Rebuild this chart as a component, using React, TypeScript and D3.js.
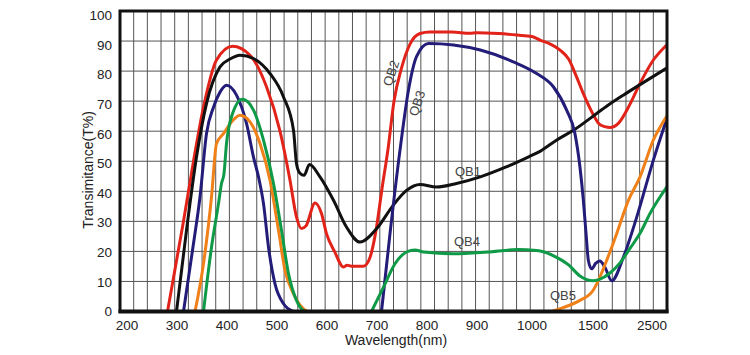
import React from "react";
import * as d3 from "d3";

// ---- data (wavelength nm, transmittance %) ----
const X_TICKS = [200, 300, 400, 500, 600, 700, 800, 900, 1000, 1500, 2500];
const Y_TICKS = [0, 10, 20, 30, 40, 50, 60, 70, 80, 90, 100];

const QB1: [number, number][] = [
  [299, 0], [319, 27], [339, 51.4], [359, 69.2], [386, 81.4], [406, 84], [426, 85.3],
  [453, 84.2], [486, 79.2], [513, 71.4], [533, 60.3], [539, 49.2], [546, 46], [554, 45.3],
  [565, 48.9], [586, 44.8], [613, 37], [639, 28.1], [666, 23.1], [699, 27.5], [733, 35.5],
  [759, 40.3], [786, 42.3], [819, 41.4], [859, 42.6], [906, 44.8], [953, 48.1], [993, 51.4],
  [1066, 53.3], [1200, 57], [1339, 60.3], [1563, 65.9], [1731, 68.3], [2014, 72],
  [2297, 75.5], [2749, 81],
];

const QB2: [number, number][] = [
  [281, 0], [313, 30], [333, 50], [353, 68], [379, 83.7], [411, 88.3], [446, 85.3],
  [479, 74.8], [506, 60], [526, 43.7], [539, 31.4], [549, 27.6], [558, 28.5], [576, 36.1],
  [589, 32.6], [599, 25.9], [615, 20], [633, 14.8], [640, 15.4], [649, 15.1], [673, 15.1],
  [686, 18], [697, 26], [711, 42], [722, 54], [734, 70], [749, 81], [766, 89], [786, 92.5],
  [806, 93], [850, 93], [886, 92.6], [899, 92.8], [940, 92.5], [973, 92], [1000, 91.5],
  [1066, 90.3], [1150, 89], [1230, 87], [1300, 84], [1366, 78], [1421, 72.5],
  [1505, 65.5], [1600, 62.5], [1700, 61.5], [1788, 61.2], [1929, 62.6], [2127, 69],
  [2297, 75.9], [2523, 83.7], [2749, 88.7],
];

const QB3_VIS: [number, number][] = [
  [313, 0], [333, 22.6], [346, 38.1], [359, 59.2], [373, 68], [386, 73], [399, 75.3],
  [419, 72], [439, 62.6], [453, 51.4], [463, 44.8], [473, 35.9], [483, 21.4], [496, 9.2],
  [513, 2.6], [533, 0],
];
const QB3_NIR: [number, number][] = [
  [709, 0], [726, 25.9], [746, 53.7], [763, 73.7], [779, 84.8], [803, 89.2], [853, 88.7],
  [906, 87], [966, 83.1], [1038, 79.2], [1175, 74.8], [1284, 67], [1352, 59.2],
  [1393, 48.1], [1421, 37], [1443, 25.9], [1462, 17], [1489, 14.2], [1545, 16],
  [1615, 16.8], [1700, 14.8], [1817, 10.2], [2014, 18], [2241, 31.4], [2522, 50.3],
  [2749, 64],
];

const QB4_VIS: [number, number][] = [
  [353, 0], [369, 21.4], [383, 35.9], [389, 42.6], [394, 45.9], [399, 55.9], [409, 64.8],
  [431, 70.6], [453, 67], [473, 57], [493, 42.6], [509, 27], [523, 12.6], [539, 3.7],
  [553, 0.3], [560, 0],
];
const QB4_NIR: [number, number][] = [
  [689, 0], [713, 8.1], [736, 15.9], [759, 19.8], [776, 20.5], [793, 19.8], [853, 19.2],
  [919, 19.8], [973, 20.6], [1038, 20.3], [1100, 19.8], [1202, 18], [1300, 15.5],
  [1393, 11.8], [1505, 10.2], [1600, 10.6], [1788, 12.8], [1950, 16], [2127, 21],
  [2297, 26], [2466, 32.6], [2749, 41.4],
];

const QB5_VIS: [number, number][] = [
  [336, 0], [353, 15.9], [369, 38.1], [379, 55.9], [393, 59.2], [409, 63.1], [426, 65.3],
  [446, 63.1], [466, 55.9], [486, 43.7], [503, 27], [516, 13.7], [533, 5.9], [553, 0.9],
  [562, 0],
];
const QB5_NIR: [number, number][] = [
  [1160, 0], [1270, 1.5], [1393, 3.7], [1500, 7], [1590, 10.3], [1732, 17], [1901, 25.9],
  [2100, 37], [2297, 44.8], [2522, 57], [2749, 65],
];

const LABELS = ["QB1", "QB2", "QB3", "QB4", "QB5"];
const LABEL_AT: [number, number][] = [
  [882, 46.7], [728, 79.3], [780, 69.3], [880, 23.3], [1254, 5.3],
];
const LABEL_ROT = [0, -72, -72, 0, 0];

export default function App() {
  const W = 750, H = 355;
  const left = 120, right = 667, top = 11, bottom = 311.5;

  const x = d3
    .scaleLinear()
    .domain(X_TICKS)
    .range([127, 177, 227, 277, 327, 377, 427, 477, 532, 593, 652]);
  const y = d3.scaleLinear().domain([0, 100]).range([bottom, top]);
  // tick labels in the reference sit on a slightly compressed scale
  const yLab = d3.scaleLinear().domain([0, 100]).range([311.5, 15.5]);

  const line = d3
    .line<[number, number]>()
    .x((d) => x(d[0]))
    .y((d) => y(d[1]))
    .curve(d3.curveMonotoneX);

  const vGrid = d3.range(41).map((i) => left + (i * (right - left)) / 40);

  const series: { data: [number, number][]; color: string }[] = [
    { data: QB2, color: "#e2231a" },
    { data: QB1, color: "#111111" },
    { data: QB3_VIS, color: "#231c78" },
    { data: QB3_NIR, color: "#231c78" },
    { data: QB5_VIS, color: "#f08119" },
    { data: QB5_NIR, color: "#f08119" },
    { data: QB4_VIS, color: "#0e9a47" },
    { data: QB4_NIR, color: "#0e9a47" },
  ];

  const font = "Liberation Sans, Arial, Helvetica, sans-serif";

  return (
    <svg
      width={W}
      height={H}
      style={{ position: "absolute", left: 0, top: 0, background: "#fff" }}
      fontFamily={font}
    >
      <defs>
        <clipPath id="plot">
          <rect x={left} y={top} width={right - left} height={bottom - top} />
        </clipPath>
      </defs>
      {/* grid */}
      {vGrid.map((gx, i) => (
        <line key={"v" + i} x1={gx} x2={gx} y1={top} y2={bottom} stroke="#555" strokeWidth={1} />
      ))}
      {Y_TICKS.map((t) => (
        <line key={"h" + t} x1={left} x2={right} y1={y(t)} y2={y(t)} stroke="#555" strokeWidth={1} />
      ))}
      {/* curves */}
      <g clipPath="url(#plot)">
        {series.map((s, i) => (
          <path
            key={i}
            d={line(s.data) || ""}
            fill="none"
            stroke={s.color}
            strokeWidth={3}
            strokeLinejoin="round"
            strokeLinecap="round"
          />
        ))}
      </g>
      {/* frame */}
      <rect x={left} y={top} width={right - left} height={bottom - top} fill="none" stroke="#111" strokeWidth={3} />
      <line x1={left - 1.5} x2={right + 1.5} y1={bottom} y2={bottom} stroke="#111" strokeWidth={4} />
      {/* y ticks */}
      {Y_TICKS.map((t) => (
        <text key={"yt" + t} x={112} y={yLab(t)} dy="0.35em" textAnchor="end" fontSize={13.5} fill="#222">
          {t}
        </text>
      ))}
      {/* x ticks */}
      {X_TICKS.map((t) => (
        <text key={"xt" + t} x={x(t)} y={330} textAnchor="middle" fontSize={13.5} fill="#222">
          {t}
        </text>
      ))}
      <text x={396} y={344.5} textAnchor="middle" fontSize={14} fill="#222">
        Wavelength(nm)
      </text>
      <text
        transform={`translate(92.5,${170}) rotate(-90)`}
        textAnchor="middle"
        fontSize={14}
        fill="#222"
      >
        Transimitance(T%)
      </text>
      {/* series labels */}
      {LABELS.map((lb, i) => (
        <text
          key={lb}
          transform={`translate(${x(LABEL_AT[i][0])},${y(LABEL_AT[i][1])}) rotate(${LABEL_ROT[i]})`}
          textAnchor="middle"
          dy="0.35em"
          fontSize={13}
          fill="#444"
        >
          {lb}
        </text>
      ))}
    </svg>
  );
}
